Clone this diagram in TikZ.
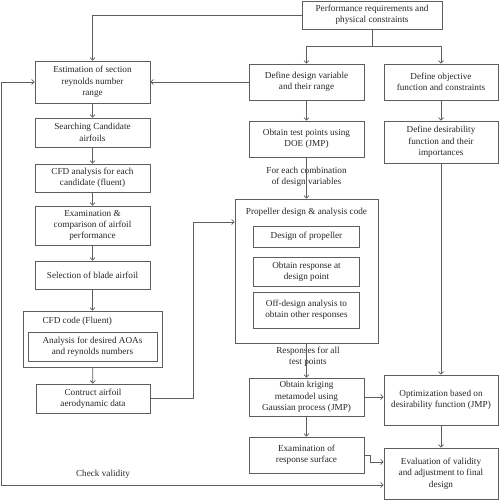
\documentclass[tikz,border=0pt]{standalone}
\usepackage{fontspec}
\setmainfont{Liberation Serif}
\usepackage{xcolor}
\usetikzlibrary{arrows.meta,positioning}
\definecolor{linegray}{HTML}{5E5E5E}
\definecolor{textgray}{HTML}{262626}

\begin{document}
\begin{tikzpicture}[x=1pt, y=-1pt,
    >={Straight Barb[length=2.5pt,width=5pt]},
    every node/.style={font=\fontsize{9.2}{11.3}\selectfont, text=textgray, align=center},
    box/.style={draw=linegray, line width=0.75pt, inner sep=0pt, minimum width=115pt},
    frame/.style={draw=linegray, line width=0.75pt, inner sep=0pt},
    link/.style={draw=linegray, line width=0.75pt}]
    \useasboundingbox (0,0) rectangle (499,500);

    % left column
    \node [box, minimum height=42pt] (est) at (92.5,82) {Estimation of section\\reynolds number\\range};
    \node [box, minimum height=29pt] (search) at (92.5,132.5) {Searching Candidate\\airfoils};
    \node [box, minimum height=28pt] (cfda) at (92.5,178) {CFD analysis for each\\candidate (fluent)};
    \node [box, minimum height=39pt] (exam) at (92.5,225.5) {Examination \&\\comparison of airfoil\\performance};
    \node [box, minimum height=28pt] (select) at (92.5,275) {Selection of blade airfoil};
    \node [frame, minimum width=139pt, minimum height=56pt] (cfdcode) at (92.5,339) {};
    \node [anchor=west] (cfdtitle) at (39,321) {CFD code (Fluent)};
    \node [box, minimum width=129pt, minimum height=29pt] (aoa) at (92.5,346.5) {Analysis for desired AOAs\\and reynolds numbers};
    \node [box, minimum width=114pt, minimum height=29pt] (contruct) at (93,398.5) {Contruct airfoil\\aerodynamic data};

    % top and middle column
    \node [box, minimum width=140pt, minimum height=28pt] (perf) at (372,15) {Performance requirements and\\physical constraints};
    \node [box, minimum height=36pt] (dvar) at (306.5,82) {Define design variable\\and their range};
    \node [box, minimum height=36pt] (test) at (306.5,139) {Obtain test points using\\DOE (JMP)};
    \node (combo) at (306.5,177) {For each combination\\of design variables};
    \node [frame, minimum width=143pt, minimum height=144pt] (prop) at (306.5,271) {};
    \node (proptitle) at (306.5,212) {Propeller design \& analysis code};
    \node [box, minimum width=106pt, minimum height=21pt] (dprop) at (306.5,236.5) {Design of propeller};
    \node [box, minimum width=106pt, minimum height=29pt] (resp) at (306.5,271.5) {Obtain response at\\design point};
    \node [box, minimum width=106pt, minimum height=36pt] (offd) at (306.5,310) {Off-design analysis to\\obtain other responses};
    \node (allpts) at (308,357) {Responses for all\\test points};
    \node [box, minimum height=38pt] (krig) at (306.5,397) {Obtain kriging\\metamodel using\\Gaussian process (JMP)};
    \node [box, minimum height=36pt] (rsurf) at (306.5,455) {Examination of\\response surface};

    % right column
    \node [box, minimum width=114pt, minimum height=36pt] (dobj) at (441,82) {Define objective\\function and constraints};
    \node [box, minimum width=114pt, minimum height=42pt] (desir) at (441,142) {Define desirability\\function and their\\importances};
    \node [box, minimum width=114pt, minimum height=50pt] (optim) at (441,400) {Optimization based on\\desirability function (JMP)};
    \node [box, minimum width=114pt, minimum height=51pt] (eval) at (441,473.5) {Evaluation of validity\\and adjustment to final\\design};
    \node (check) at (103,474) {Check validity};

    \coordinate (split) at (372,46);
    \coordinate (bend) at (193,222);
    \coordinate (jog) at (370,462);
    \coordinate (low) at (1,485);
    \coordinate (high) at (1,82);

    \draw [link, ->] (perf.west) -| (est.north);
    \draw [link] (perf.south) -- (split);
    \draw [link, ->] (split) -| (dvar.north);
    \draw [link, ->] (split) -| (dobj.north);
    \draw [link, ->] (dvar.west) -- (est.east);

    \draw [link, ->] (est) -- (search);
    \draw [link, ->] (search) -- (cfda);
    \draw [link, ->] (cfda) -- (exam);
    \draw [link, ->] (exam) -- (select);
    \draw [link, ->] (select) -- (cfdcode);
    \draw [link, ->] (cfdcode) -- (contruct);
    \draw [link, ->] (contruct.east) -| (bend) -- (prop.west |- bend);

    \draw [link, ->] (dvar) -- (test);
    \draw [link, ->] (test) -- (prop);
    \draw [link, ->] (prop) -- (krig);
    \draw [link, ->] (krig) -- (rsurf);
    \draw [link, ->] (krig.east) -- (optim.west |- krig.east);
    \draw [link, ->] (rsurf.east) -| (jog) -- (eval.west |- jog);

    \draw [link, ->] (dobj) -- (desir);
    \draw [link, ->] (desir) -- (optim);
    \draw [link, ->] (optim) -- (eval);

    \draw [link, <->] (eval.west |- low) -- (low) -- (high) -- (est.west);
\end{tikzpicture}
\end{document}
